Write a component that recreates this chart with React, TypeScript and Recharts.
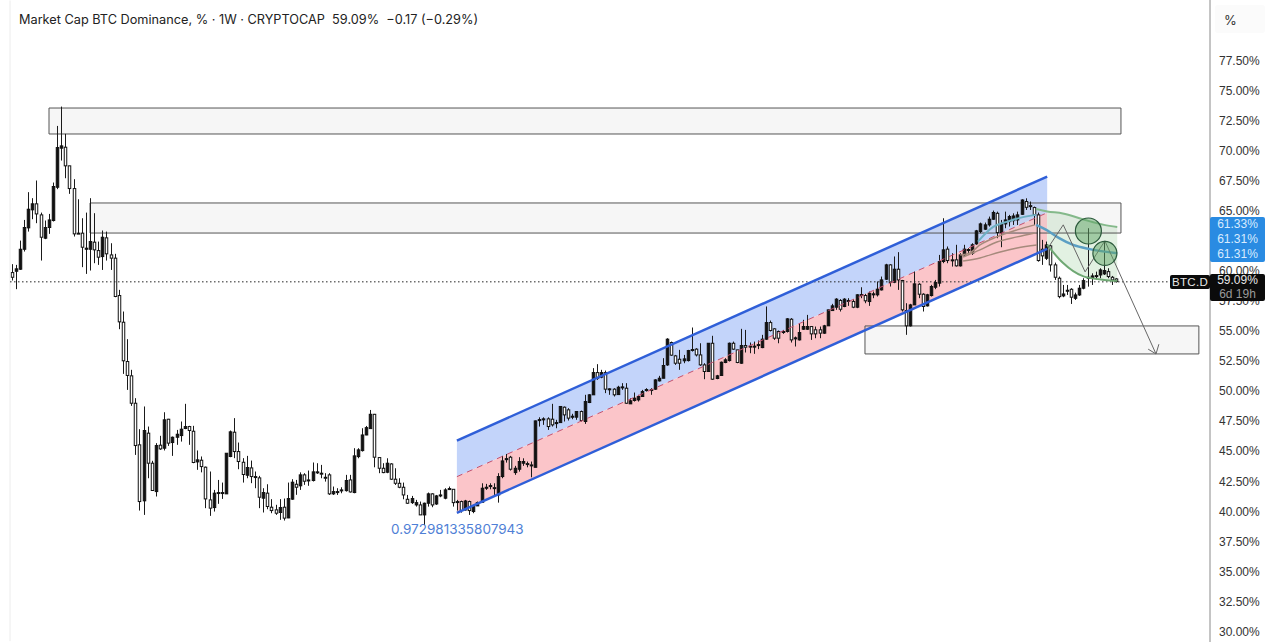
import {
  Area,
  Bar,
  ComposedChart,
  Line,
  ReferenceArea,
  ReferenceDot,
  ReferenceLine,
  XAxis,
  YAxis,
} from 'recharts';

const opens = [
  59.86,59.97,60.14,61.80,63.58,65.08,65.58,64.66,62.72,63.61,
  64.19,66.96,70.21,70.29,68.74,66.85,63.14,63.14,61.80,61.80,
  62.39,61.69,61.19,62.75,61.33,61.06,57.95,55.73,52.46,51.27,
  48.99,45.53,40.87,46.50,44.00,41.64,45.50,45.25,47.66,45.72,
  46.16,46.30,46.89,47.05,46.66,44.11,44.25,43.67,40.95,40.31,
  41.51,41.56,41.45,44.56,46.58,44.97,44.08,43.00,43.61,42.89,
  42.78,41.09,41.51,40.34,40.12,39.90,40.34,39.45,41.01,42.25,
  42.12,43.03,42.61,42.56,43.22,43.17,42.83,43.03,41.45,41.58,
  41.70,41.72,42.61,41.56,44.55,45.05,46.35,46.88,48.07,44.47,
  43.58,43.25,43.94,42.67,42.33,42.00,41.00,40.72,40.53,40.53,
  39.70,40.67,41.45,40.61,41.28,41.09,41.83,41.83,40.81,40.81,
  40.11,40.81,39.98,40.45,40.75,41.95,42.08,41.97,41.36,42.89,
  44.33,44.50,43.22,43.50,44.00,43.97,43.86,43.66,47.57,47.63,
  47.69,47.66,47.30,47.38,48.66,48.44,47.86,47.83,48.30,47.47,
  49.05,49.69,51.54,51.16,51.54,50.19,50.16,49.71,50.30,50.24,
  48.94,49.22,49.27,49.55,50.07,50.13,50.16,50.85,51.07,52.18,
  54.04,52.93,52.65,52.52,52.54,53.40,53.49,53.01,52.18,51.63,
  53.98,51.05,51.30,52.38,52.54,53.98,53.43,52.32,53.79,53.74,
  53.68,53.82,53.62,54.32,55.70,55.18,54.96,54.90,54.96,55.98,
  54.37,54.26,55.15,55.15,55.37,55.10,55.10,54.82,55.43,56.70,
  56.98,57.54,57.04,57.48,57.45,56.98,57.98,57.95,57.45,58.01,
  58.01,58.42,59.31,60.50,59.06,60.14,59.20,56.70,55.43,57.17,
  58.89,58.06,57.09,57.95,58.64,58.98,60.78,61.81,60.92,60.92,
  60.42,61.33,61.72,61.47,62.25,63.28,63.47,63.83,64.30,64.79,
  63.19,63.91,64.10,64.18,64.24,64.71,65.77,65.43,65.27,64.66,
  61.80,61.05,62.08,60.50,59.39,57.92,58.33,58.47,57.72,58.00,
  58.56,59.39,59.39,59.55,59.66,59.75,59.94,59.47,59.33,
];
const highs = [
  60.56,60.50,62.52,64.24,66.55,66.05,67.52,64.85,64.19,64.74,
  67.35,72.06,73.67,71.40,68.74,67.63,65.96,64.38,64.85,66.05,
  64.80,62.44,63.36,63.27,62.30,61.42,58.42,56.62,54.32,51.77,
  49.41,46.83,48.72,47.05,44.20,45.67,46.28,48.24,47.69,46.22,
  46.77,47.47,48.94,47.11,47.11,45.06,44.56,43.72,43.31,41.78,
  42.61,42.39,44.83,46.72,47.75,45.72,44.42,44.61,44.22,43.31,
  42.95,41.92,42.25,41.01,40.54,41.01,41.06,42.39,42.67,42.61,
  43.24,43.17,43.39,44.06,44.00,43.86,43.17,43.17,42.06,41.92,
  42.00,43.03,43.03,45.25,45.25,46.91,47.10,48.43,48.10,44.50,
  44.00,44.41,44.00,43.58,42.75,42.39,41.36,41.28,40.95,40.81,
  40.72,41.56,41.50,41.36,41.78,41.92,42.06,41.83,40.95,40.89,
  40.95,40.89,40.53,40.81,42.33,42.28,42.33,42.33,43.17,44.61,
  44.77,44.61,43.78,44.50,44.41,44.14,44.14,47.55,47.82,47.82,
  47.82,48.94,47.61,48.72,48.72,48.58,48.11,48.30,48.38,49.69,
  49.74,51.91,52.24,51.77,51.71,50.24,50.24,50.44,50.66,50.66,
  49.41,49.88,49.69,50.10,50.24,50.24,50.99,51.27,52.74,54.40,
  54.12,53.01,53.43,53.01,53.43,55.29,53.57,53.98,52.32,53.98,
  54.60,51.35,52.46,52.74,54.04,54.12,53.43,55.18,55.09,54.04,
  54.12,54.21,54.68,57.04,55.87,55.23,55.04,55.09,56.07,56.07,
  54.54,55.65,55.93,56.34,55.37,55.37,55.37,55.51,56.76,57.26,
  57.73,57.65,57.73,57.73,57.65,58.06,58.64,58.09,58.28,58.28,
  59.12,59.53,60.59,60.56,61.20,61.56,59.25,57.31,57.26,59.95,
  58.98,58.14,58.09,58.84,59.25,61.33,64.38,62.03,61.47,62.17,
  61.47,62.17,61.89,62.30,63.41,64.02,64.02,64.52,65.02,64.93,
  64.24,64.93,64.66,64.79,64.93,65.96,66.04,65.77,65.35,64.85,
  62.58,62.44,62.16,60.69,59.53,58.83,58.83,58.56,58.19,58.83,
  59.39,63.55,59.80,59.94,60.22,62.44,60.22,59.58,59.39,
];
const lows = [
  59.20,58.48,60.08,61.61,63.27,64.30,63.97,60.86,62.64,63.08,
  64.11,66.80,69.18,67.71,66.41,62.86,63.08,60.31,59.75,60.03,
  60.64,60.50,60.08,60.86,60.08,57.81,55.15,51.43,50.10,48.77,
  44.69,40.06,39.70,42.75,41.73,41.23,45.11,45.06,45.44,44.61,
  45.53,45.80,46.83,45.53,44.00,43.45,43.24,40.26,39.62,39.98,
  40.62,41.03,41.45,44.50,44.42,43.50,42.39,42.75,42.34,41.92,
  40.26,39.90,40.17,39.84,39.70,39.29,39.23,39.43,40.95,41.37,
  41.78,42.20,42.12,42.48,43.11,42.75,42.47,41.36,41.36,41.36,
  41.50,41.64,41.56,41.50,44.41,44.97,46.33,46.91,43.66,43.17,
  43.17,43.17,42.61,42.19,41.92,41.00,40.61,40.61,40.39,39.70,
  38.87,40.39,40.34,40.53,41.17,41.00,41.78,40.39,40.06,39.89,
  40.06,39.70,39.84,40.45,40.72,41.78,41.83,41.36,40.72,42.75,
  44.05,43.39,43.03,43.30,43.78,43.66,42.83,43.66,47.05,47.19,
  46.77,47.05,46.91,47.38,47.47,47.55,47.66,47.61,47.47,47.27,
  49.00,49.69,50.93,51.07,49.83,49.69,49.55,49.69,50.10,48.94,
  48.94,49.13,49.13,49.55,49.96,49.69,50.10,50.80,51.07,52.10,
  52.93,52.18,51.77,52.32,52.46,53.29,52.88,52.10,50.99,51.63,
  50.93,50.99,51.27,52.32,52.46,53.43,52.32,52.27,53.21,53.15,
  53.10,53.49,53.57,54.26,54.96,54.26,53.98,54.76,54.87,54.04,
  53.71,54.21,55.09,55.09,54.26,54.40,54.40,54.76,55.43,56.70,
  56.76,56.62,56.98,57.09,56.90,56.90,57.73,57.31,57.09,57.73,
  57.87,58.37,59.25,58.70,58.98,58.42,56.62,54.68,55.37,57.17,
  57.73,56.62,57.04,57.87,58.48,58.70,60.64,60.64,60.36,60.36,
  60.36,61.25,61.33,61.33,62.17,63.14,63.41,63.69,64.25,62.72,
  61.97,63.55,63.69,63.82,63.82,64.66,65.07,65.07,63.82,60.77,
  60.50,60.91,59.94,59.25,57.72,57.81,58.00,57.25,57.58,57.92,
  58.47,58.69,58.83,59.30,59.39,59.66,59.39,58.83,59.03,
];
const closes = [
  59.47,60.17,61.80,63.61,65.13,65.58,64.74,62.80,63.61,64.24,
  67.02,70.26,70.40,68.74,66.85,63.08,63.08,61.97,61.89,62.44,
  61.75,61.14,62.80,61.42,61.06,57.87,55.76,52.52,51.30,48.99,
  45.47,40.81,46.72,44.00,41.73,45.47,45.19,47.61,45.67,46.16,
  46.41,46.83,47.05,46.72,44.06,44.28,43.72,41.03,40.26,41.51,
  41.56,41.51,44.83,46.61,44.97,44.14,43.06,43.64,42.89,42.84,
  41.17,41.56,40.40,40.06,39.84,40.31,39.43,41.06,42.42,42.00,
  43.03,42.50,42.53,43.28,43.28,43.11,42.80,41.45,41.64,41.64,
  41.78,42.56,41.61,44.61,45.11,46.35,46.96,48.07,44.50,43.58,
  43.22,44.00,42.67,42.33,42.00,41.36,40.67,41.06,40.72,39.70,
  40.67,41.45,40.53,41.28,41.36,41.78,41.89,40.72,40.75,40.06,
  40.86,40.06,40.39,40.72,41.92,42.00,42.14,41.92,42.89,44.19,
  44.38,43.50,43.58,44.14,44.14,43.91,43.78,47.52,47.63,47.69,
  47.05,47.19,47.38,48.72,48.02,47.75,47.91,48.30,47.55,49.13,
  49.69,51.54,51.07,51.54,50.16,50.13,49.69,50.32,50.35,48.99,
  49.19,49.41,49.55,49.96,50.13,50.07,50.93,51.07,52.13,54.32,
  52.99,52.32,52.32,52.68,53.37,53.46,53.01,52.18,51.63,53.98,
  50.99,51.27,52.40,52.60,53.98,53.49,52.38,53.79,53.65,53.68,
  53.74,53.87,54.32,55.70,55.04,54.40,54.40,54.96,56.01,54.26,
  54.43,54.87,55.37,55.37,54.76,54.76,54.82,55.43,56.76,57.09,
  57.65,56.81,57.65,57.54,56.98,58.01,58.03,57.51,58.14,58.09,
  58.48,59.25,60.50,59.03,60.14,59.25,56.76,55.43,57.17,58.92,
  58.06,57.04,58.01,58.70,59.03,60.78,61.75,60.86,60.84,60.42,
  61.33,61.81,61.78,62.17,63.33,63.91,63.83,64.30,64.86,63.19,
  63.91,64.24,64.52,64.57,64.66,65.90,65.29,65.38,64.66,60.86,
  61.25,62.16,60.50,59.47,57.86,58.08,58.39,57.81,58.00,58.56,
  59.19,59.47,59.58,59.61,60.08,60.03,59.53,59.25,59.11,
];

const priceTicks = [
  30, 32.5, 35, 37.5, 40, 42.5, 45, 47.5, 50, 52.5, 55, 57.5, 60, 62.5, 65, 67.5, 70, 72.5, 75, 77.5,
];
const priceTags = ['61.33%', '61.31%', '61.31%'];

// channel drawn on the chart: bar index, upper, middle, lower
const channelBars = [108, 251.2];
const channelTop = [45.88, 67.85];
const channelMid = [42.88, 64.84];
const channelBottom = [39.87, 61.83];

// green projection band
const bandBars = [251.2, 255, 260, 265, 268.2];
const bandTop = [64.95, 64.78, 64.28, 63.83, 63.66];
const bandBottom = [62.16, 60.67, 59.54, 59.25, 59.17];

const tealRiseBars = [234.4, 238.1, 241.5, 244.6, 248.5];
const tealRise = [62.44, 63.66, 64.10, 64.41, 64.66];
const tealFallBars = [248.5, 251, 254, 257.5, 261.5, 268.2];
const tealFall = [63.83, 63.41, 62.75, 62.16, 61.81, 61.47];
const greenTopBars = [248.5, 251.2, 255, 260, 265, 268.2];
const greenTop = [65.15, 64.95, 64.78, 64.28, 63.83, 63.66];

const brownABars = [230.1, 232.5, 234.9, 239, 243.9, 248.2];
const brownA = [61.33, 61.5, 62.16, 62.83, 63.41, 63.83];
const brownBBars = [230.8, 234.9, 239, 243.9, 248.2];
const brownB = [61.16, 61.75, 62.41, 62.83, 63.16];
const brownCBars = [230.8, 234.9, 239.8, 243.9, 248.7];
const brownC = [60.83, 61.08, 61.58, 61.91, 62.16];

const zigzagBars = [251.4, 255.1, 260.4, 265.2, 277.6];
const zigzag = [61.91, 63.83, 59.92, 62.5, 53.09];
const arrowBars = [275.7, 277.6, 278.3];
const arrow = [53.49, 53.09, 53.9];

const lastPrice = 59.09;

const candles = opens.map((open, i) => ({
  i,
  open,
  high: highs[i],
  low: lows[i],
  close: closes[i],
}));

const toRows = (bars: number[], values: number[]) => bars.map((i, n) => ({ i, v: values[n] }));

const channelRows = channelBars.map((i, n) => ({
  i,
  top: channelTop[n],
  mid: channelMid[n],
  bottom: channelBottom[n],
}));
const bandRows = bandBars.map((i, n) => ({ i, top: bandTop[n], bottom: bandBottom[n] }));

const Candle = (props: any) => {
  const { x, y, width, height, payload } = props;
  const { open, high, low, close } = payload;
  const cx = Math.round(x + width / 2) + 0.5;
  const perPoint = height / (high - low);
  const bodyTop = y + (high - Math.max(open, close)) * perPoint;
  const bodyHeight = Math.max(Math.abs(open - close) * perPoint, 1);
  const up = close >= open;
  return (
    <g>
      <line x1={cx} x2={cx} y1={y} y2={y + height} stroke="#1a1a1a" strokeWidth={1} />
      <rect
        x={cx - 1.25}
        y={bodyTop}
        width={2.5}
        height={bodyHeight}
        fill={up ? '#111' : '#fff'}
        stroke="#111"
        strokeWidth={1}
      />
    </g>
  );
};

const font = 'Inter, "Liberation Sans", sans-serif';
const axisFont = '"Liberation Sans", sans-serif';

export default function App() {
  const lineProps = { dot: false, activeDot: false, isAnimationActive: false };
  return (
    <div style={{ position: 'absolute', left: 0, top: 0, width: 1280, height: 642, background: '#fff', overflow: 'hidden', fontFamily: font }}>
      <ComposedChart width={1280} height={642} data={candles} margin={{ top: 0, right: 0, bottom: 0, left: 0 }}>
        <XAxis dataKey="i" type="number" domain={[-2.84, 290.7]} hide allowDataOverflow />
        <YAxis
          orientation="right"
          width={70}
          type="number"
          domain={[29.126, 82.537]}
          ticks={priceTicks}
          interval={0}
          allowDataOverflow
          tickLine={false}
          tickMargin={3}
          axisLine={{ stroke: '#8a8a8a' }}
          tick={{ fill: '#333', fontSize: 12, fontFamily: axisFont, textAnchor: 'start' }}
          tickFormatter={(v: number) => `${v.toFixed(2)}%`}
        />

        <Area data={channelRows} dataKey={(d: any) => [d.mid, d.top]} stroke="none" fill="#c3d4fa" fillOpacity={1} {...lineProps} />
        <Area data={channelRows} dataKey={(d: any) => [d.bottom, d.mid]} stroke="none" fill="#fbc5c9" fillOpacity={1} {...lineProps} />
        <Area data={bandRows} dataKey={(d: any) => [d.bottom, d.top]} stroke="none" fill="#e2f1e2" fillOpacity={1} {...lineProps} />

        <ReferenceArea x1={9.05} x2={269.1} y1={71.39} y2={73.55} fill="#cfcfcf" fillOpacity={0.18} stroke="#555" strokeWidth={1} />
        <ReferenceArea x1={19} x2={269.1} y1={63.15} y2={65.65} fill="#cfcfcf" fillOpacity={0.18} stroke="#555" strokeWidth={1} />
        <ReferenceArea x1={207} x2={288} y1={53.09} y2={55.42} fill="#cfcfcf" fillOpacity={0.18} stroke="#555" strokeWidth={1} />

        <ReferenceLine segment={[{ x: -0.41, y: 29.2 }, { x: -0.41, y: 82.5 }]} stroke="#ececec" />
        <ReferenceLine segment={[{ x: -0.41, y: lastPrice }, { x: 290.7, y: lastPrice }]} stroke="#222" strokeDasharray="1.5 2.5" />

        <Line data={channelRows} dataKey="top" stroke="#2f5fd8" strokeWidth={2.5} {...lineProps} />
        <Line data={channelRows} dataKey="bottom" stroke="#2f5fd8" strokeWidth={2.5} {...lineProps} />
        <Line data={channelRows} dataKey="mid" stroke="#c2506e" strokeWidth={1} strokeDasharray="6 5" {...lineProps} />

        <Line data={toRows(brownABars, brownA)} dataKey="v" type="monotone" stroke="#a68a7c" strokeWidth={1.5} {...lineProps} />
        <Line data={toRows(brownBBars, brownB)} dataKey="v" type="monotone" stroke="#a68a7c" strokeWidth={1.5} {...lineProps} />
        <Line data={toRows(brownCBars, brownC)} dataKey="v" type="monotone" stroke="#a68a7c" strokeWidth={1.5} {...lineProps} />
        <Line data={toRows(tealRiseBars, tealRise)} dataKey="v" type="monotone" stroke="#6fb0c4" strokeWidth={2} {...lineProps} />
        <Line data={toRows(greenTopBars, greenTop)} dataKey="v" type="monotone" stroke="#84b98a" strokeWidth={2} {...lineProps} />
        <Line data={bandRows} dataKey="bottom" type="monotone" stroke="#6fa873" strokeWidth={2} {...lineProps} />
        <Line data={toRows(tealFallBars, tealFall)} dataKey="v" type="monotone" stroke="#5b9fc4" strokeWidth={2.5} {...lineProps} />

        <Bar dataKey={(d: any) => [d.low, d.high]} barSize={3} shape={<Candle />} isAnimationActive={false} />

        <ReferenceDot x={261.2} y={63.32} r={13} fill="#5fa565" fillOpacity={0.5} stroke="#2c5a3c" strokeWidth={1.2} />
        <ReferenceDot x={265.2} y={61.46} r={12} fill="#5fa565" fillOpacity={0.5} stroke="#2c5a3c" strokeWidth={1.2} />

        <Line data={toRows(zigzagBars, zigzag)} dataKey="v" stroke="#666" strokeWidth={1} {...lineProps} />
        <Line data={toRows(arrowBars, arrow)} dataKey="v" stroke="#666" strokeWidth={1} {...lineProps} />
      </ComposedChart>

      {/* Header and price tags */}
      <div style={{ position: 'absolute', left: 19, top: 12, fontSize: 12.73, color: '#222', whiteSpace: 'pre' }}>
        {'Market Cap BTC Dominance, % · 1W · CRYPTOCAP  59.09%  −0.17 (−0.29%)'}
      </div>
      <div style={{ position: 'absolute', left: 1215, top: 5, width: 50, height: 28, background: '#fbfbfb', borderRadius: 3, color: '#333', fontSize: 13, lineHeight: '30px', paddingLeft: 9, boxSizing: 'border-box' }}>%</div>
      <div style={{ position: 'absolute', left: 391, top: 521, fontSize: 13.5, color: '#4f7fd6' }}>
        0.972981335807943
      </div>

      <div style={{ position: 'absolute', left: 1210, top: 217, width: 55, height: 45, background: '#2a8be2', borderRadius: 2, color: '#d9ecff', fontFamily: axisFont, fontSize: 12, textAlign: 'center' }}>
        {priceTags.map((tag, n) => (
          <div key={n} style={{ height: 15, lineHeight: '15px' }}>{tag}</div>
        ))}
      </div>
      <div style={{ position: 'absolute', left: 1170, top: 275, width: 40, height: 14, lineHeight: '14px', background: '#0b0b0b', color: '#e8e8e8', fontFamily: axisFont, fontSize: 11.5, letterSpacing: 0.3, textAlign: 'center', borderRadius: 2 }}>
        BTC.D
      </div>
      <div style={{ position: 'absolute', left: 1210, top: 274, width: 55, height: 27, background: '#0b0b0b', color: '#e8e8e8', fontFamily: axisFont, fontSize: 12, textAlign: 'center', borderRadius: 2, lineHeight: '13.5px' }}>
        <div>59.09%</div>
        <div style={{ color: '#9a9a9a' }}>6d 19h</div>
      </div>
    </div>
  );
}
